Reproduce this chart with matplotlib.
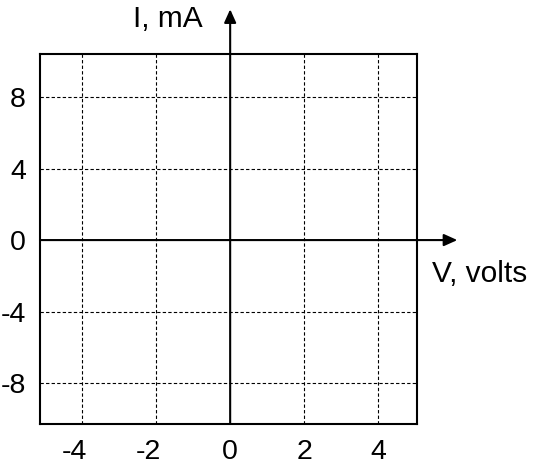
import matplotlib.pyplot as plt
from matplotlib.transforms import ScaledTranslation

plt.rcParams['font.family'] = ['Liberation Sans', 'DejaVu Sans']

x_ticks = [-4, -2, 0, 2, 4]
y_ticks = [-8, -4, 0, 4, 8]
x_lim = (-5.14, 5.05)
y_lim = (-10.28, 10.4)

fig = plt.figure(figsize=(5.34, 4.71), dpi=100)
ax = fig.add_axes([40 / 534, (471 - 424) / 471, 377 / 534, 370 / 471])
ax.set_xlim(x_lim)
ax.set_ylim(y_lim)
ax.set_xticks(x_ticks)
ax.set_yticks(y_ticks)
ax.tick_params(length=0, labelsize=20.5)
ax.tick_params(axis='y', pad=10)
ax.tick_params(axis='x', pad=11)
ax.set_xticklabels([str(v) for v in x_ticks])
ax.set_yticklabels([str(v) for v in y_ticks])

# negative x labels: digit sits on the tick, minus hangs left
for lab, v in zip(ax.get_xticklabels(), x_ticks):
    if v < 0:
        lab.set_transform(lab.get_transform() + ScaledTranslation(-8 / 100, 0, fig.dpi_scale_trans))

for s in ax.spines.values():
    s.set_linewidth(1.5)

# dashed grid at the non-zero ticks
for v in x_ticks:
    if v != 0:
        ax.axvline(v, color='black', lw=0.8, ls=(0, (3, 2)))
for v in y_ticks:
    if v != 0:
        ax.axhline(v, color='black', lw=0.8, ls=(0, (3, 2)))

# axes with arrows
arrow = dict(arrowstyle='-|>,head_length=0.8,head_width=0.36', color='black', lw=1.5,
             shrinkA=0, shrinkB=0)
ax.annotate('', xy=(0, 12.9), xytext=(0, y_lim[0]), arrowprops=arrow, annotation_clip=False)
ax.annotate('', xy=(6.14, 0), xytext=(x_lim[0], 0), arrowprops=arrow, annotation_clip=False)

ax.text(-2.62, 11.9, 'I, mA', fontsize=21.5, ha='left', va='baseline', clip_on=False)
ax.text(5.46, -2.35, 'V, volts', fontsize=21.5, ha='left', va='baseline', clip_on=False)

fig.savefig('out.png', dpi=100)
